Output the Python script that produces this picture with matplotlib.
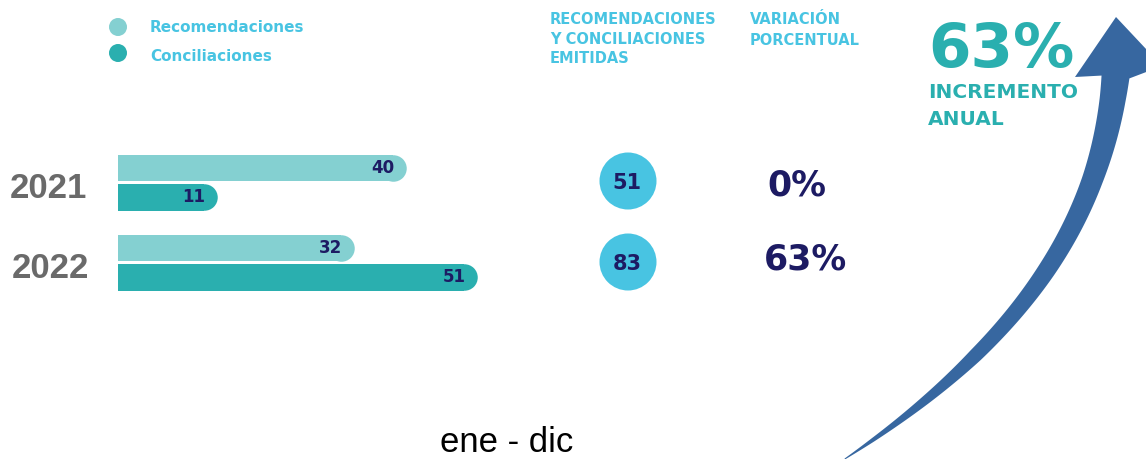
import numpy as np
import matplotlib.pyplot as plt
from matplotlib.patches import Circle, Polygon

# values
years = ['2021', '2022']
recomendaciones = [40, 32]
conciliaciones = [11, 51]
emitidas = [51, 83]
variacion = ['0%', '63%']
incremento = '63%'

light_teal = '#84d0d1'
dark_teal = '#2aafaf'
sky = '#48c4e2'
navy = '#1d1b63'
arrow_blue = '#3767a0'
grey = '#6a6a6a'

W, H = 1146, 459
fig = plt.figure(figsize=(W / 100, H / 100), dpi=100)

# overlay axes in pixel units (y grows downward)
ax = fig.add_axes([0, 0, 1, 1])
ax.set_xlim(0, W)
ax.set_ylim(H, 0)
ax.axis('off')

# ---- bars ----
px_per_unit = 6.5
bar_left_px, bar_w_px = 118, 500
top_px, bot_px = 142.75, 302.75
bx = fig.add_axes([bar_left_px / W, (H - bot_px) / H, bar_w_px / W, (bot_px - top_px) / H])
x0 = -28 / px_per_unit
r = 13.25 / px_per_unit
bar_h = 0.33
cap_pt = 26.5 * 0.72

for series, color, off in [(recomendaciones, light_teal, -0.184),
                           (conciliaciones, dark_teal, 0.184)]:
    ypos = np.arange(len(years)) + off
    vals = np.array(series)
    bx.barh(ypos, vals - r - x0, left=x0, height=bar_h, color=color, lw=0)
    bx.scatter(vals - r, ypos, s=cap_pt ** 2, color=color, lw=0, marker='o')
    for v, y in zip(vals, ypos):
        bx.annotate(str(v), (v, y), xytext=(-12, 0), textcoords='offset pixels',
                    ha='right', va='center', fontsize=12, fontweight='bold', color=navy)

bx.set_xlim(x0, x0 + bar_w_px / px_per_unit)
bx.set_ylim(1.5, -0.5)
bx.axis('off')

# year labels
for yr, x, base in zip(years, [10, 12], [198, 278]):
    ax.text(x, base, yr, ha='left', va='baseline', fontsize=25, fontweight='bold',
            color=grey, family='Liberation Sans')

# ---- legend ----
for lbl, col, cy, base in [('Recomendaciones', light_teal, 27, 32),
                           ('Conciliaciones', dark_teal, 53, 61)]:
    ax.add_patch(Circle((118, cy), 9, color=col, lw=0))
    ax.text(150, base, lbl, ha='left', va='baseline', fontsize=11, fontweight='bold', color=sky)

# ---- column headers ----
for txt, base in [('RECOMENDACIONES', 24), ('Y CONCILIACIONES', 44), ('EMITIDAS', 63)]:
    ax.text(550, base, txt, ha='left', va='baseline', fontsize=10.5, fontweight='bold', color=sky)
for txt, base in [('VARIACIÓN', 24), ('PORCENTUAL', 45)]:
    ax.text(750, base, txt, ha='left', va='baseline', fontsize=10.5, fontweight='bold', color=sky)

# ---- totals and variation ----
for val, cy, base in zip(emitidas, [181, 262], [189, 270]):
    ax.add_patch(Circle((628, cy), 28.5, color=sky, lw=0))
    ax.text(627, base, str(val), ha='center', va='baseline', fontsize=15,
            fontweight='bold', color=navy)
for pct, x, base in zip(variacion, [767, 764], [195, 270]):
    ax.text(x, base, pct, ha='left', va='baseline', fontsize=25, fontweight='bold', color=navy)

# ---- big figure ----
ax.text(928, 67, incremento, ha='left', va='baseline', fontsize=44, fontweight='bold', color=dark_teal)
ax.text(928, 98, 'INCREMENTO', ha='left', va='baseline', fontsize=14.5, fontweight='bold', color=dark_teal)
ax.text(928, 125, 'ANUAL', ha='left', va='baseline', fontsize=14.5, fontweight='bold', color=dark_teal)

# ---- curved arrow: smooth centreline x(y), tapering width ----
guide_y = [459, 440, 400, 350, 270, 180, 100, 77]
guide_x = [852, 866, 920, 985, 1051, 1088, 1112, 1117]
coef = np.polyfit(guide_y, guide_x, 3)
ys = np.linspace(459, 77, 200)
xs = np.polyval(coef, ys)
dxdy = np.polyval(np.polyder(coef), ys)
tang = np.column_stack([-dxdy, -np.ones_like(ys)])  # moving upward
tang /= np.linalg.norm(tang, axis=1, keepdims=True)
nrm = np.column_stack([-tang[:, 1], tang[:, 0]])
wid = np.interp(ys, [77, 100, 180, 270, 355, 400, 440, 459],
                [28, 26, 21, 18, 14, 9, 4, 1])[:, None]
centre = np.column_stack([xs, ys])
side_a = centre + nrm * wid / 2
side_b = centre - nrm * wid / 2
if side_a[-1, 0] < side_b[-1, 0]:
    side_a, side_b = side_b, side_a
head = np.array([[1162, 66], [1116, 17], [1075, 77]])
pts = np.vstack([side_a, head, side_b[::-1]])
ax.add_patch(Polygon(pts, closed=True, color=arrow_blue, lw=0))

# ---- period ----
ax.text(507, 452, 'ene - dic', ha='center', va='baseline', fontsize=25,
        color='black', family='Liberation Sans')

fig.savefig('out.png', dpi=100)
